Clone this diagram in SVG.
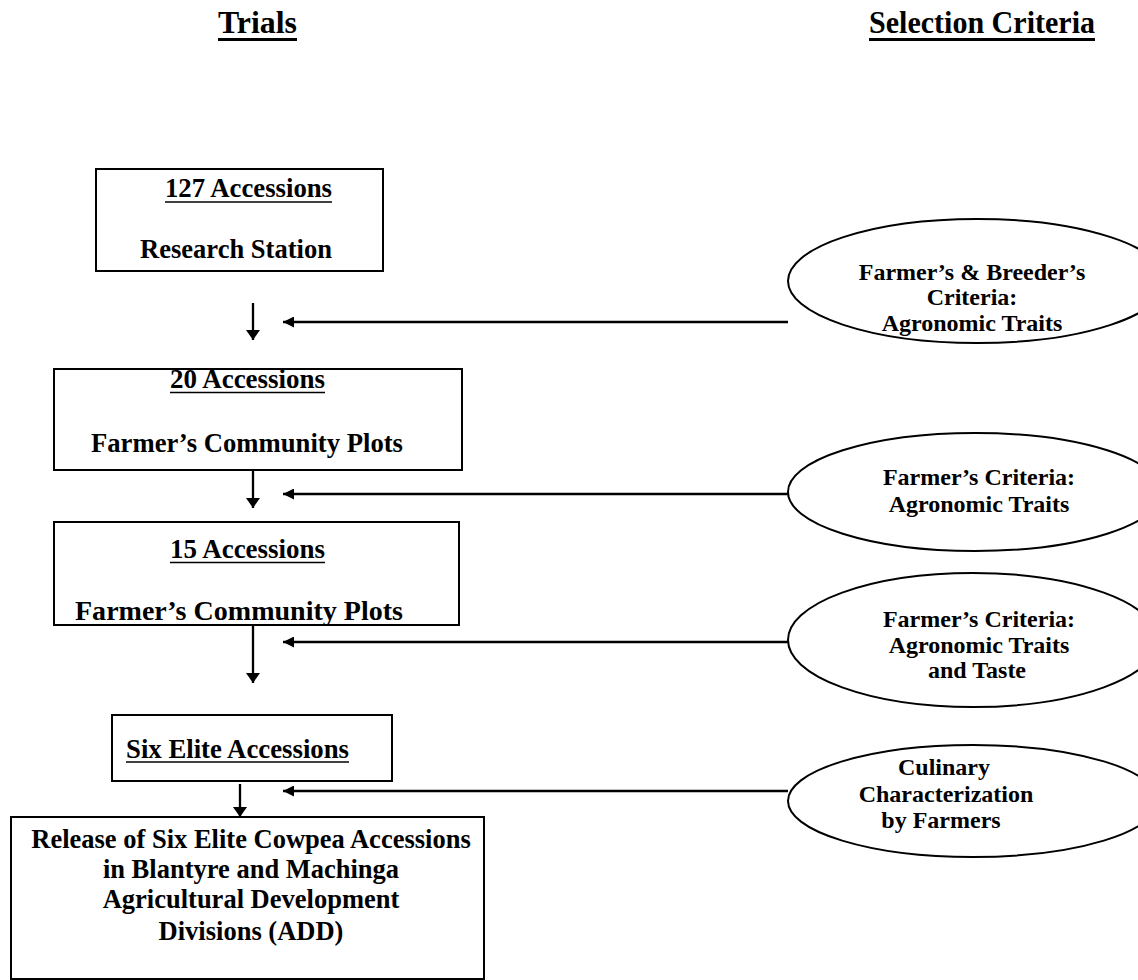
<svg xmlns="http://www.w3.org/2000/svg" width="1138" height="980" viewBox="0 0 1138 980">
<style>
text{font-family:"Liberation Serif","Times New Roman",serif;font-weight:bold;fill:#000}
.hd{font-size:32px}
.bx{font-size:26.5px}
.el{font-size:24px}
.box{fill:#fff;stroke:#000;stroke-width:2}
.ell{fill:#fff;stroke:#000;stroke-width:2}
.ul{stroke:#000;stroke-width:1.6}
.hul{stroke:#000;stroke-width:3}
.arr{stroke:#000;stroke-width:2.3;fill:none}
.h{marker-end:url(#ahh)}
.v{marker-end:url(#ahv)}
</style>
<defs>
<marker id="ahh" markerUnits="userSpaceOnUse" markerWidth="11" markerHeight="11" viewBox="0 0 11 11" refX="11" refY="5.5" orient="auto">
<path d="M0,0 L11,5.5 L0,11 z" fill="#000"/>
</marker>
<marker id="ahv" markerUnits="userSpaceOnUse" markerWidth="10" markerHeight="14" viewBox="0 0 10 14" refX="10" refY="7" orient="auto">
<path d="M0,0 L10,7 L0,14 z" fill="#000"/>
</marker>
</defs>
<rect width="1138" height="980" fill="#fff"/>
<g id="headers">
<text class="hd" x="218" y="33" textLength="79" lengthAdjust="spacingAndGlyphs">Trials</text>
<line class="hul" x1="218" y1="39.5" x2="297" y2="39.5"/>
<text class="hd" x="869" y="33" textLength="226" lengthAdjust="spacingAndGlyphs">Selection Criteria</text>
<line class="hul" x1="869" y1="39.5" x2="1095" y2="39.5"/>
</g>
<g id="ellipse1">
<ellipse class="ell" cx="977" cy="281" rx="189" ry="62"/>
<text class="el" text-anchor="middle" x="972" y="280">Farmer’s &amp; Breeder’s</text>
<text class="el" text-anchor="middle" x="972" y="305">Criteria:</text>
<text class="el" text-anchor="middle" x="972" y="331">Agronomic Traits</text>
</g>
<g id="ellipse2">
<ellipse class="ell" cx="975" cy="492" rx="187" ry="59"/>
<text class="el" text-anchor="middle" x="979" y="485">Farmer’s Criteria:</text>
<text class="el" text-anchor="middle" x="979" y="512">Agronomic Traits</text>
</g>
<g id="ellipse3">
<ellipse class="ell" cx="973" cy="640" rx="185" ry="67"/>
<text class="el" text-anchor="middle" x="979" y="627">Farmer’s Criteria:</text>
<text class="el" text-anchor="middle" x="979" y="653">Agronomic Traits</text>
<text class="el" text-anchor="middle" x="977" y="678">and Taste</text>
</g>
<g id="ellipse4">
<ellipse class="ell" cx="973" cy="801" rx="185" ry="56"/>
<text class="el" text-anchor="middle" x="944" y="775">Culinary</text>
<text class="el" text-anchor="middle" x="946" y="802">Characterization</text>
<text class="el" text-anchor="middle" x="941" y="828">by Farmers</text>
</g>
<g id="box1">
<rect class="box" x="96" y="169" width="287" height="102"/>
<text class="bx" x="165" y="197" textLength="167" lengthAdjust="spacingAndGlyphs">127 Accessions</text>
<line class="ul" x1="165" y1="202" x2="332" y2="202"/>
<text class="bx" x="140" y="258" textLength="192" lengthAdjust="spacingAndGlyphs">Research Station</text>
</g>
<g id="box2">
<rect class="box" x="54" y="369" width="408" height="101"/>
<text class="bx" x="170" y="388" textLength="155" lengthAdjust="spacingAndGlyphs">20 Accessions</text>
<line class="ul" x1="170" y1="392.5" x2="325" y2="392.5"/>
<text class="bx" x="91" y="452" textLength="312" lengthAdjust="spacingAndGlyphs">Farmer’s Community Plots</text>
</g>
<g id="box3">
<rect class="box" x="54" y="522" width="405" height="103"/>
<text class="bx" x="170" y="558" textLength="155" lengthAdjust="spacingAndGlyphs">15 Accessions</text>
<line class="ul" x1="170" y1="562.5" x2="325" y2="562.5"/>
<text class="bx" x="75" y="620" textLength="328" lengthAdjust="spacingAndGlyphs">Farmer’s Community Plots</text>
</g>
<g id="box4">
<rect class="box" x="112" y="715" width="280" height="66"/>
<text class="bx" x="126" y="758" textLength="223" lengthAdjust="spacingAndGlyphs">Six Elite Accessions</text>
<line class="ul" x1="126" y1="762" x2="349" y2="762"/>
</g>
<g id="box5">
<rect class="box" x="11" y="817" width="473" height="162"/>
<text class="bx" text-anchor="middle" x="251" y="848">Release of Six Elite Cowpea Accessions</text>
<text class="bx" text-anchor="middle" x="251" y="878">in Blantyre and Machinga</text>
<text class="bx" text-anchor="middle" x="251" y="908">Agricultural Development</text>
<text class="bx" text-anchor="middle" x="251" y="940">Divisions (ADD)</text>
</g>
<g id="connectors">
<line class="arr v" x1="253" y1="303" x2="253" y2="340"/>
<line class="arr v" x1="253" y1="471" x2="253" y2="508"/>
<line class="arr v" x1="253" y1="626" x2="253" y2="683"/>
<line class="arr v" x1="240" y1="784" x2="240" y2="817"/>
<line class="arr h" x1="788" y1="322" x2="283" y2="322"/>
<line class="arr h" x1="788" y1="494" x2="283" y2="494"/>
<line class="arr h" x1="788" y1="642" x2="283" y2="642"/>
<line class="arr h" x1="788" y1="791" x2="283" y2="791"/>
</g>
</svg>
